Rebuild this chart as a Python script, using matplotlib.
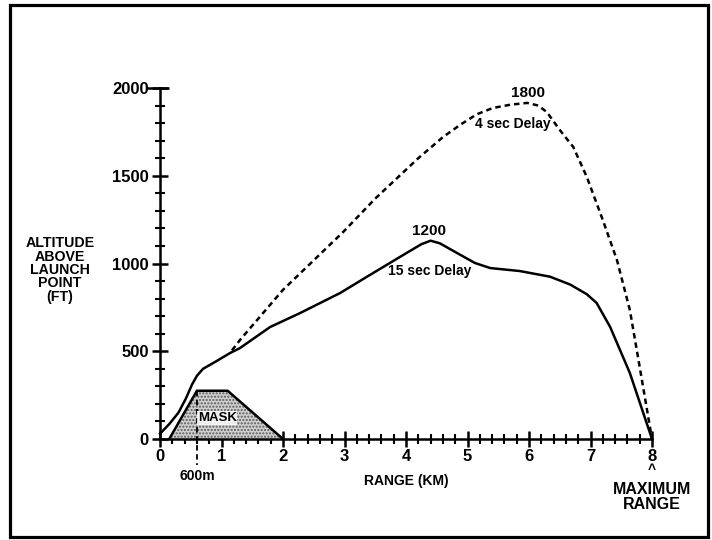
import matplotlib
matplotlib.use("Agg")
import matplotlib.pyplot as plt
from matplotlib.patches import Polygon, Rectangle
from matplotlib.ticker import MultipleLocator

plt.rcParams['font.family'] = ['Liberation Sans', 'DejaVu Sans']
plt.rcParams['font.weight'] = 'bold'

# 15 sec delay trajectory (range km, altitude ft)
solid_x = [0.0, 0.15, 0.3, 0.42, 0.52, 0.6, 0.7, 0.9, 1.14, 1.3, 1.79, 2.28, 2.93, 3.41, 3.9, 4.25, 4.4, 4.55, 4.88, 5.12, 5.37, 5.85, 6.34, 6.67, 6.94, 7.1, 7.32, 7.48, 7.64, 8.0]
solid_y = [30, 85, 150, 230, 310, 360, 400, 440, 490, 518, 638, 718, 832, 934, 1037, 1110, 1130, 1115, 1050, 1003, 974, 957, 925, 880, 825, 775, 638, 507, 376, 0]

# 4 sec delay trajectory
dash_x = [1.17, 1.3, 2.0, 2.98, 3.5, 4.2, 4.6, 4.88, 5.15, 5.41, 5.7, 5.97, 6.15, 6.29, 6.5, 6.72, 6.94, 7.2, 7.43, 7.64, 7.8, 8.0]
dash_y = [505, 564, 850, 1180, 1370, 1600, 1720, 1790, 1850, 1886, 1905, 1915, 1900, 1863, 1761, 1664, 1493, 1248, 1020, 735, 410, 0]

# Mask outline
mask_x = [0.15, 0.6, 1.1, 2.0]
mask_y = [0, 275, 275, 0]

x_ticks = [0, 1, 2, 3, 4, 5, 6, 7, 8]
y_ticks = [0, 500, 1000, 1500, 2000]

W, H = 712, 540
fig = plt.figure(figsize=(W / 100, H / 100), dpi=100)
ax = fig.add_axes([160 / W, (H - 439) / H, 492 / W, 351 / H])
ax.set_xlim(0, 8)
ax.set_ylim(0, 2000)

for s in ['top', 'right']:
    ax.spines[s].set_visible(False)
for s in ['left', 'bottom']:
    ax.spines[s].set_linewidth(1.8)

ax.set_xticks(x_ticks)
ax.set_yticks(y_ticks)
ax.xaxis.set_minor_locator(MultipleLocator(0.2))
ax.yaxis.set_minor_locator(MultipleLocator(100))
ax.tick_params(which='major', direction='inout', length=12, width=1.8, labelsize=12, pad=2)
ax.tick_params(which='minor', direction='inout', length=7, width=1.5)
ax.tick_params(axis='x', which='major', pad=1)
for lab in ax.get_xticklabels() + ax.get_yticklabels():
    lab.set_fontweight('bold')

# wider top tick at 2000
ax.plot([-0.22, 0.15], [2000, 2000], color='black', lw=1.8, clip_on=False, solid_capstyle='butt')

# mask
poly = Polygon(list(zip(mask_x, mask_y)), closed=True, facecolor='#cfcfcf',
               edgecolor='#5a5a5a', hatch='.....', linewidth=0, zorder=2)
ax.add_patch(poly)
ax.plot(mask_x, mask_y, color='black', lw=1.8, zorder=3, solid_joinstyle='miter')
ax.text(0.93, 120, 'MASK', ha='center', va='center', fontsize=9.5, fontweight='bold', zorder=4,
        bbox=dict(facecolor='white', edgecolor='none', pad=0.5, alpha=0.85))

# 600 m marker
ax.plot([0.6, 0.6], [275, -150], color='black', lw=1.3, linestyle=(0, (3, 2)), clip_on=False, zorder=3)
ax.text(0.6, -210, '600m', ha='center', va='center', fontsize=10, fontweight='bold')

# trajectories
ax.plot(solid_x, solid_y, color='black', lw=1.8, zorder=4, clip_on=False)
ax.plot(dash_x, dash_y, color='black', lw=1.8, linestyle=(0, (2.2, 1.6)), zorder=4, clip_on=False)

ax.text(4.38, 1185, '1200', ha='center', va='center', fontsize=11, fontweight='bold')
ax.text(4.38, 960, '15 sec Delay', ha='center', va='center', fontsize=10, fontweight='bold')
ax.text(5.98, 1970, '1800', ha='center', va='center', fontsize=11, fontweight='bold')
ax.text(5.74, 1795, '4 sec Delay', ha='center', va='center', fontsize=10, fontweight='bold',
        bbox=dict(facecolor='white', edgecolor='none', pad=0.3))

# axis labels
fig.text(406 / W, 1 - 481 / H, 'RANGE (KM)', ha='center', va='center', fontsize=10, fontweight='bold')
fig.text(652 / W, 1 - 470 / H, '^', ha='center', va='center', fontsize=10, fontweight='bold')
fig.text(652 / W, 1 - 497 / H, 'MAXIMUM\nRANGE', ha='center', va='center', fontsize=11.5,
         fontweight='bold', linespacing=0.95)
fig.text(60 / W, 1 - 270 / H, 'ALTITUDE\nABOVE\nLAUNCH\nPOINT\n(FT)', ha='center', va='center',
         fontsize=10.2, fontweight='bold', linespacing=0.95)

# outer frame
fig.patches.append(Rectangle((10 / W, 1 - 537 / H), 698 / W, 532 / H, transform=fig.transFigure,
                             fill=False, edgecolor='black', linewidth=2.3))

fig.savefig('out.png', dpi=100)
